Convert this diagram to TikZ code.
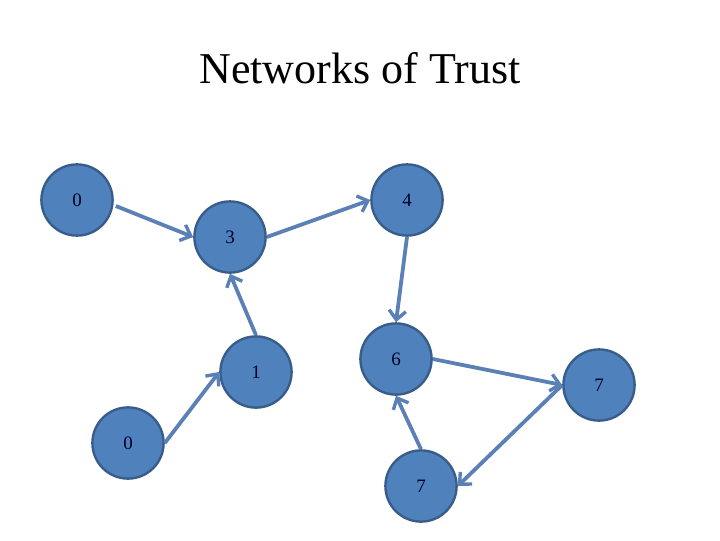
\documentclass[tikz,border=0pt]{standalone}
\usepackage{fontspec}
\setmainfont{Liberation Serif}
\usetikzlibrary{arrows.meta,positioning}
\definecolor{nodefill}{HTML}{4F81BD}
\definecolor{nodeline}{HTML}{385D8A}
\definecolor{edgeblue}{HTML}{5B80B5}
\tikzset{
  trustnode/.style={circle, fill=nodefill, draw=nodeline, line width=1.7pt,
    minimum size=1.78cm, inner sep=0pt, font=\fontsize{13.5}{13.5}\selectfont, text=black!85!blue},
  trustarrow/.style={draw=edgeblue, line width=2.7pt,
    -{Straight Barb[length=6.5pt,width=12pt,line width=2.4pt]}}
}
\begin{document}
\begin{tikzpicture}[x=0.025cm,y=-0.025cm]
  \useasboundingbox (0,0) rectangle (720,540);

  % Title
  \node (title) at (360,68) {\fontsize{31.3}{31.3}\selectfont Networks of Trust};

  % Nodes
  \node[trustnode] (a0) at (77,200) {0};
  \node[trustnode] (a4) at (407,200) {4};
  \node[trustnode] (a3) at (230,237) {3};
  \node[trustnode] (a1) at (256,372) {1};
  \node[trustnode] (a6) at (396,359) {6};
  \node[trustnode] (a7) at (599,385) {7};
  \node[trustnode] (b0) at (128,443) {0};
  \node[trustnode] (b7) at (421,486) {7};

  % Trust edges
  \draw[trustarrow] (a0.east) ++(2,6) -- (a3.west);
  \draw[trustarrow] (a3.east) -- (a4.west);
  \draw[trustarrow] (a4.south) -- (a6.north);
  \draw[trustarrow] (a1.north) -- (a3.south);
  \draw[trustarrow] (b0.east) -- (a1.west);
  \draw[trustarrow] (a6.east) -- (a7.west);
  \draw[trustarrow] (a7.west) -- (b7.east);
  \draw[trustarrow] (b7.north) -- (a6.south);
\end{tikzpicture}
\end{document}
